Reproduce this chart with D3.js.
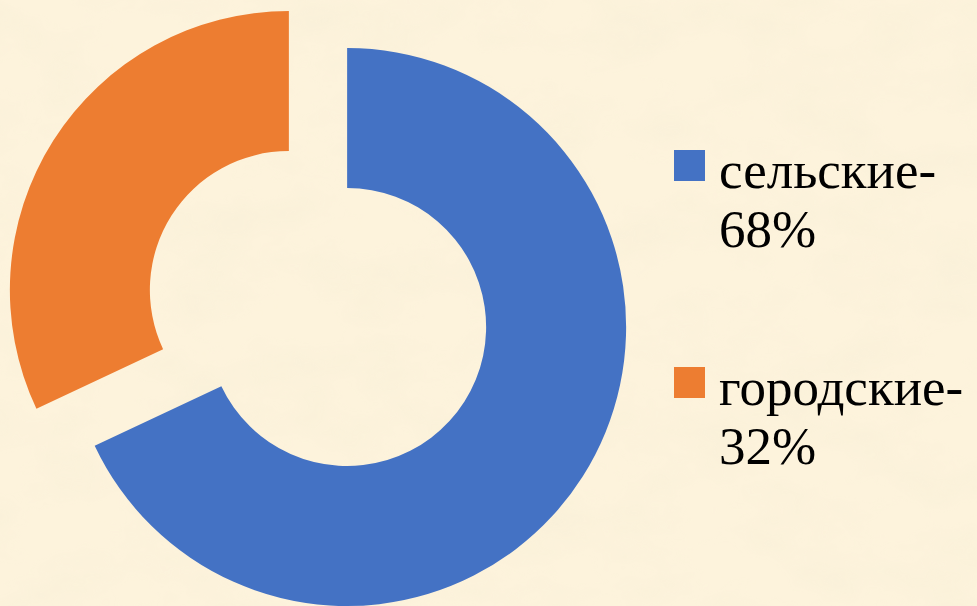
<!DOCTYPE html>
<html>
<head>
<meta charset="utf-8">
<script src="https://cdnjs.cloudflare.com/ajax/libs/d3/7.8.5/d3.min.js"></script>
<style>
	html, body { margin: 0; padding: 0; background: #fcf1d9; overflow: hidden; }
	.legend text { font-family: "Liberation Serif", "Times New Roman", Tinos, "Noto Serif", "FreeSerif", "DejaVu Serif", "Noto Serif CJK SC", "Noto Serif CJK JP", serif; }
</style>
</head>
<body>
<div id="root"></div>
<script>
// Chart data
var categories = ["сельские", "городские"];
var values = [68, 32];
var colors = ["#4472c4", "#ed7d31"];

var width = 977,
height = 606;

var svg = d3.select("#root")
						.append("svg")
						.attr("width", width)
						.attr("height", height);

// Parchment background
var defs = svg.append("defs");

var paper = defs.append("filter")
								.attr("id", "paper")
								.attr("x", 0).attr("y", 0)
								.attr("width", "100%").attr("height", "100%");

paper.append("feTurbulence")
			.attr("type", "fractalNoise")
			.attr("baseFrequency", "0.012 0.02")
			.attr("numOctaves", 4)
			.attr("seed", 7)
			.attr("result", "noise");

paper.append("feColorMatrix")
			.attr("in", "noise")
			.attr("type", "matrix")
			.attr("values", "0 0 0 0 0.93  0 0 0 0 0.86  0 0 0 0 0.68  0 0 0 -1.6 1.0")
			.attr("result", "tint");

paper.append("feComposite")
			.attr("in", "tint")
			.attr("in2", "SourceGraphic")
			.attr("operator", "in");

svg.append("rect")
		.attr("width", width)
		.attr("height", height)
		.attr("fill", "#fdf3dc");

svg.append("rect")
		.attr("width", width)
		.attr("height", height)
		.attr("fill", "#fff")
		.attr("opacity", 0.6)
		.attr("filter", "url(#paper)");

// Donut
var outerR = 279,
innerR = 139,
explode = 34.5,
cx = 318,
cy = 308.5;

var pie = d3.pie()
						.sort(null)
						.value(function (d) { return d; });

var arc = d3.arc()
						.innerRadius(innerR)
						.outerRadius(outerR);

var donut = svg.append("g")
								.attr("transform", "translate(" + cx + "," + cy + ")");

donut.selectAll("path")
		.data(pie(values))
		.enter()
		.append("path")
		.attr("d", arc)
		.attr("fill", function (d, i) { return colors[i]; })
		.attr("transform", function (d) {
			var a = (d.startAngle + d.endAngle) / 2;
			return "translate(" + (Math.sin(a) * explode) + "," + (-Math.cos(a) * explode) + ")";
		});

// Legend
var legend = svg.selectAll(".legend")
								.data(categories)
								.enter()
								.append("g")
								.attr("class", "legend")
								.attr("transform", function (d, i) { return "translate(674," + (150 + i * 217) + ")"; });

legend.append("rect")
			.attr("width", 31)
			.attr("height", 31)
			.attr("fill", function (d, i) { return colors[i]; });

var legendText = legend.append("text")
											.attr("font-size", 53)
											.attr("fill", "#000");

legendText.append("tspan")
					.attr("x", 45)
					.attr("y", 38)
					.text(function (d) { return d + "-"; });

legendText.append("tspan")
					.attr("x", 45)
					.attr("y", 97)
					.text(function (d, i) { return values[i] + "%"; });
</script>
</body>
</html>
